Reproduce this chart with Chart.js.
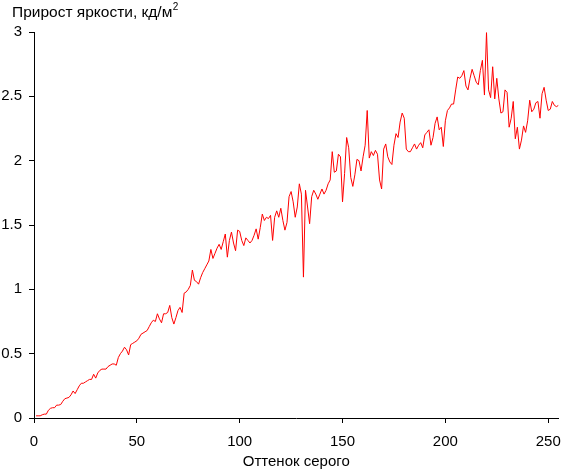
<!DOCTYPE html>
<html><head><meta charset="utf-8">
<script src="https://cdn.jsdelivr.net/npm/chart.js@4"></script>
<style>html,body{margin:0;padding:0;background:#fff;}canvas{display:block;}</style>
</head><body>
<canvas id="c" width="561" height="471"></canvas>
<script>
const chartTitle = 'Прирост яркости, кд/м';
const chartTitleSup = '2';
const xAxisTitle = 'Оттенок серого';
const xTicks = [0, 50, 100, 150, 200, 250];
const yTicks = [0, 0.5, 1, 1.5, 2, 2.5, 3];
const yTickLabels = ['0', '0.5', '1', '1.5', '2', '2.5', '3'];
const firstShade = 1;
const brightnessGain = [
  0.017, 0.017, 0.017, 0.025, 0.03, 0.03, 0.06, 0.075, 0.08, 0.08,
  0.10, 0.10, 0.105, 0.13, 0.15, 0.155, 0.16, 0.18, 0.21, 0.19,
  0.22, 0.25, 0.27, 0.27, 0.28, 0.29, 0.30, 0.30, 0.34, 0.31,
  0.35, 0.37, 0.38, 0.38, 0.38, 0.40, 0.41, 0.42, 0.42, 0.41,
  0.47, 0.50, 0.52, 0.55, 0.53, 0.49, 0.57, 0.58, 0.59, 0.60,
  0.62, 0.65, 0.66, 0.67, 0.68, 0.71, 0.74, 0.76, 0.75, 0.81,
  0.77, 0.74, 0.81, 0.81, 0.82, 0.875, 0.78, 0.73, 0.78, 0.835,
  0.86, 0.82, 0.97, 0.98, 1.00, 1.03, 1.15, 1.07, 1.06, 1.04,
  1.09, 1.13, 1.16, 1.19, 1.22, 1.31, 1.24, 1.28, 1.32, 1.35,
  1.31, 1.37, 1.43, 1.25, 1.38, 1.445, 1.36, 1.30, 1.46, 1.45,
  1.38, 1.34, 1.40, 1.38, 1.36, 1.38, 1.42, 1.47, 1.39, 1.48,
  1.585, 1.535, 1.56, 1.55, 1.575, 1.38, 1.56, 1.61, 1.56, 1.63,
  1.535, 1.46, 1.52, 1.72, 1.76, 1.68, 1.56, 1.64, 1.82, 1.74,
  1.095, 1.77, 1.64, 1.51, 1.72, 1.77, 1.74, 1.70, 1.74, 1.78,
  1.74, 1.77, 1.82, 1.85, 2.07, 1.91, 1.92, 2.05, 2.03, 1.68,
  1.90, 2.18, 2.10, 1.87, 1.80, 1.89, 2.01, 2.00, 1.92, 2.03,
  2.12, 2.39, 2.02, 2.07, 2.04, 2.08, 2.05, 1.85, 1.78, 2.09,
  2.13, 2.03, 1.99, 1.97, 2.12, 2.21, 2.18, 2.30, 2.37, 2.33,
  2.09, 2.07, 2.07, 2.10, 2.13, 2.09, 2.12, 2.14, 2.10, 2.20,
  2.22, 2.24, 2.12, 2.18, 2.29, 2.34, 2.24, 2.26, 2.11, 2.31,
  2.39, 2.41, 2.44, 2.44, 2.55, 2.65, 2.64, 2.66, 2.70, 2.58,
  2.55, 2.64, 2.71, 2.66, 2.61, 2.59, 2.70, 2.78, 2.51, 2.995,
  2.55, 2.49, 2.73, 2.48, 2.64, 2.48, 2.37, 2.38, 2.55, 2.53,
  2.26, 2.33, 2.46, 2.17, 2.26, 2.09, 2.16, 2.27, 2.22, 2.31,
  2.47, 2.38, 2.40, 2.45, 2.46, 2.33, 2.52, 2.57, 2.47, 2.39,
  2.40, 2.46, 2.43, 2.42, 2.43
];

const FONT = '"Liberation Sans", Arial, sans-serif';
const points = brightnessGain.map((v, i) => ({ x: firstShade + i, y: v }));

const titlePlugin = {
  id: 'titleText',
  afterDraw(chart) {
    const ctx = chart.ctx;
    ctx.save();
    ctx.fillStyle = '#000';
    ctx.textBaseline = 'alphabetic';
    ctx.textAlign = 'left';
    ctx.font = '15.5px ' + FONT;
    ctx.fillText(chartTitle, 12, 17);
    const w = ctx.measureText(chartTitle).width;
    ctx.font = '10px ' + FONT;
    ctx.fillText(chartTitleSup, 12 + w + 0.5, 10);
    ctx.restore();
  }
};

new Chart(document.getElementById('c'), {
  type: 'line',
  data: {
    datasets: [{
      data: points,
      borderColor: '#ff0000',
      borderWidth: 1,
      pointRadius: 0,
      tension: 0,
      fill: false
    }]
  },
  options: {
    responsive: false,
    animation: false,
    devicePixelRatio: 1,
    layout: { padding: { top: 32, right: 2.5, left: 0, bottom: 0 } },
    plugins: { legend: { display: false }, tooltip: { enabled: false }, title: { display: false } },
    scales: {
      x: {
        type: 'linear', min: 0, max: 255,
        afterBuildTicks: s => { s.ticks = xTicks.map(v => ({ value: v })); },
        afterFit: s => { s.height = 53; s.paddingLeft = 0; s.paddingRight = 0; s.paddingTop = 0; s.paddingBottom = 0; },
        grid: { display: true, drawOnChartArea: false, drawTicks: true, tickLength: 5, color: '#000', lineWidth: 1 },
        border: { display: true, color: '#000', width: 1 },
        ticks: { color: '#000', font: { family: FONT, size: 15 }, padding: 10, maxRotation: 0, autoSkip: false,
                 callback: (v) => String(v) },
        title: { display: true, text: xAxisTitle, color: '#000', font: { family: FONT, size: 15 }, padding: { top: 0, bottom: 0 } }
      },
      y: {
        min: 0, max: 3,
        afterBuildTicks: s => { s.ticks = yTicks.map(v => ({ value: v })); },
        afterFit: s => { s.width = 34; s.paddingTop = 0; s.paddingBottom = 0; },
        grid: { display: true, drawOnChartArea: false, drawTicks: true, tickLength: 5, color: '#000', lineWidth: 1 },
        border: { display: true, color: '#000', width: 1 },
        ticks: { color: '#000', font: { family: FONT, size: 15 }, padding: 7, autoSkip: false,
                 callback: (v, i) => yTickLabels[i] }
      }
    }
  },
  plugins: [titlePlugin]
});
</script>
</body></html>
